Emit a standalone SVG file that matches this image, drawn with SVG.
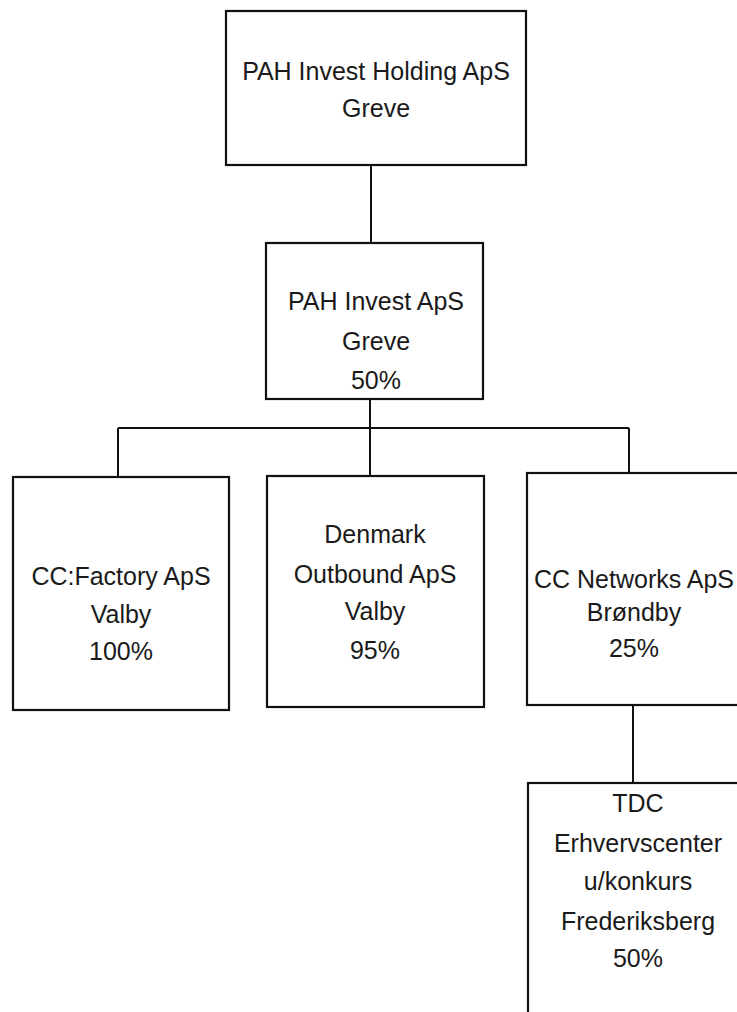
<svg xmlns="http://www.w3.org/2000/svg" width="737" height="1012" viewBox="0 0 737 1012">
<style>
.box{fill:#fff;stroke:#111;stroke-width:2.2}
.ln{fill:none;stroke:#111;stroke-width:2}
text{font-family:"Liberation Sans",Arial,sans-serif;font-size:25px;fill:#1a1a1a;text-anchor:middle}
</style>
<rect width="737" height="1012" fill="#fff"/>
<g id="connectors">
<line class="ln" x1="371" y1="165" x2="371" y2="243"/>
<line class="ln" x1="370" y1="399" x2="370" y2="428"/>
<line class="ln" x1="118" y1="428" x2="629" y2="428"/>
<line class="ln" x1="118" y1="428" x2="118" y2="477"/>
<line class="ln" x1="370" y1="428" x2="370" y2="476"/>
<line class="ln" x1="629" y1="428" x2="629" y2="473"/>
<line class="ln" x1="633" y1="705" x2="633" y2="783"/>
</g>
<g id="holding">
<rect class="box" x="226" y="11" width="300" height="154"/>
<text x="376" y="80">PAH Invest Holding ApS</text>
<text x="376" y="117">Greve</text>
</g>
<g id="pahinvest">
<rect class="box" x="266" y="243" width="217" height="156"/>
<text x="376" y="310">PAH Invest ApS</text>
<text x="376" y="350">Greve</text>
<text x="376" y="389">50%</text>
</g>
<g id="ccfactory">
<rect class="box" x="13" y="477" width="216" height="233"/>
<text x="121" y="585">CC:Factory ApS</text>
<text x="121" y="623">Valby</text>
<text x="121" y="660">100%</text>
</g>
<g id="denmark">
<rect class="box" x="267" y="476" width="217" height="231"/>
<text x="375" y="543">Denmark</text>
<text x="375" y="583">Outbound ApS</text>
<text x="375" y="620">Valby</text>
<text x="375" y="659">95%</text>
</g>
<g id="ccnetworks">
<rect class="box" x="527" y="473" width="217" height="232"/>
<text x="634" y="588">CC Networks ApS</text>
<text x="634" y="621">Brøndby</text>
<text x="634" y="657">25%</text>
</g>
<g id="tdc">
<rect class="box" x="528" y="783" width="217" height="240"/>
<text x="638" y="812">TDC</text>
<text x="638" y="852">Erhvervscenter</text>
<text x="638" y="890">u/konkurs</text>
<text x="638" y="930">Frederiksberg</text>
<text x="638" y="967">50%</text>
</g>
</svg>
